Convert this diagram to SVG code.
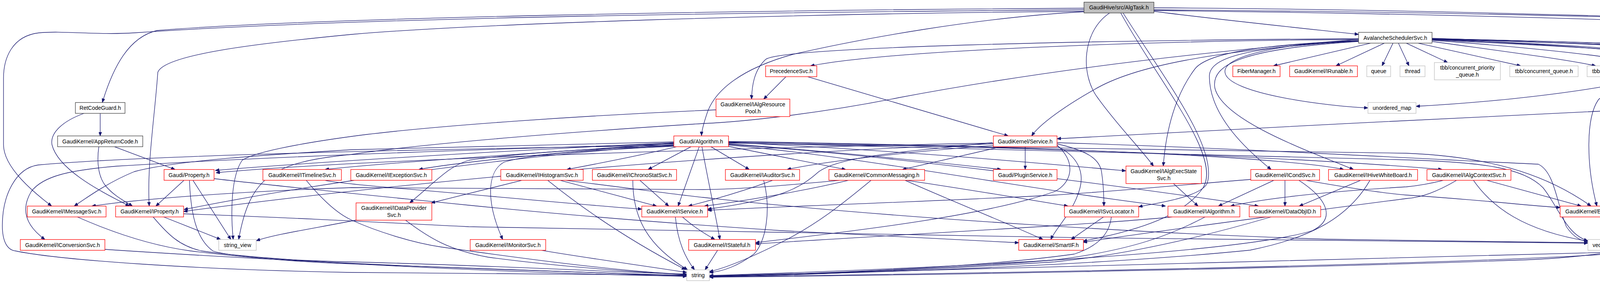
<svg xmlns="http://www.w3.org/2000/svg" width="5392" height="724" viewBox="0 0 5392 724">
<defs>
<marker id="ah" markerWidth="10" markerHeight="8" refX="10" refY="4" orient="auto" markerUnits="userSpaceOnUse">
<path d="M0,0 L10,4 L0,8 z" fill="#191970" stroke="#191970" stroke-width="1"/>
</marker>
<style>
rect{stroke-width:1.3}
.r{fill:#ffffff;stroke:#ff0000}
.k{fill:#ffffff;stroke:#404040}
.root{fill:#bfbfbf;stroke:#404040}
.g{fill:#ffffff;stroke:#bfbfbf}
text{font-family:"Liberation Sans",Arial,sans-serif;font-size:14px;text-anchor:middle;fill:#000000}
#edges path{fill:none;stroke:#191970;stroke-width:1.3;marker-end:url(#ah)}
</style>
</defs>
<rect x="0" y="0" width="5392" height="724" fill="#ffffff"/>
<g id="edges">
<path d="M2954,29 C3100,48 3350,74 3478,88"/>
<path d="M2954,20 C3700,24 4700,55 5140,83"/>
<path d="M2775,21 C1900,26 800,45 402,78 C330,95 290,170 262,262"/>
<path d="M2775,25 C1900,32 900,45 344,84 C250,90 160,78 100,84 C30,92 9,150 9,200 L9,370 C9,430 90,495 132,527"/>
<path d="M2775,29 C2000,35 1200,62 900,88 C650,112 420,140 404,185 C396,300 376,420 382,527"/>
<path d="M2775,30 C2500,45 2200,100 2030,139 C1900,175 1830,230 1810,290 C1800,320 1796,335 1796,347"/>
<path d="M2841,33 C2770,80 2765,190 2810,250 C2860,320 2920,380 2953,425"/>
<path d="M2875,33 C2980,200 3120,380 3090,470 C3070,505 2960,520 2915,529"/>
<path d="M2869,33 C2960,200 3130,400 3080,480 C3020,570 2850,600 2773,617"/>
<path d="M2954,25 C3800,32 4500,48 4760,72 C4860,85 4915,130 4942,168"/>
<path d="M2954,27 C3800,36 4600,62 4870,85 C4990,95 5040,125 5070,160 C5100,200 5080,240 4950,260 C4850,273 4770,276 4725,276"/>
<path d="M3509,110.4 L3260,168.5"/>
<path d="M3544,110.4 L3420,168.5"/>
<path d="M3566,110.4 L3538,168.5"/>
<path d="M3580,110.4 L3607,168.5"/>
<path d="M3600,110.4 L3706,160"/>
<path d="M3630,110.4 L3893,168.5"/>
<path d="M3666,106 C3800,125 4000,150 4085,168.5"/>
<path d="M3666,103 C3900,120 4150,145 4235,168.5"/>
<path d="M3666,100 C4000,115 4350,140 4462,168.5"/>
<path d="M3666,98 C4200,115 4600,140 4860,168.5"/>
<path d="M3666,101 C4100,116 4300,135 4350,160 C4385,190 4408,230 4415,262.3"/>
<path d="M3666,99 C4300,112 4600,128 4665,150 C4700,170 4692,230 4688,262.3"/>
<path d="M3478,104 C3300,110 3130,140 3136,185 C3142,240 3400,272 3502,276"/>
<path d="M3666,102 C4000,118 4250,130 4310,150 C4345,170 4330,220 4270,262.3"/>
<path d="M3478,104 C3200,115 3090,140 3060,175 C3010,240 2985,330 2978,424.8"/>
<path d="M3478,105 C3200,120 3096,145 3096,195 C3096,300 3200,390 3254,433.6"/>
<path d="M3478,106 C3180,125 3100,165 3110,225 C3130,310 3360,390 3465,433.6"/>
<path d="M3478,101 C3000,104 2300,125 2075,168.5"/>
<path d="M3478,99 C2800,103 2000,120 1960,152 C1930,180 1925,220 1924,253.5"/>
<path d="M3478,104 C3100,130 2900,170 2800,230 C2720,275 2660,320 2641,347.7"/>
<path d="M3478,101 C3100,130 2700,175 2300,250 C2100,290 1900,312 1800,316 C1500,335 1100,365 900,395 C700,415 640,450 611,612.7"/>
<path d="M3666,100 C4300,118 4600,130 4635,155 C4660,185 4620,330 4500,457 C4350,490 4250,510 4198,535"/>
<path d="M3666,100 C4350,118 4680,135 4740,190 C4780,260 4650,380 4500,470 C4350,540 4250,600 4127,620"/>
<path d="M3666,99 C4350,112 4690,135 4740,185 C4760,215 4762,240 4762,270 L4762,540 C4762,620 4700,669 4631,669 C4560,669 4400,640 4289,641 C3700,650 2300,700 1816,706"/>
<path d="M2012,196.2 L1955,253.5"/>
<path d="M2067,196.2 L2581,347.7"/>
<path d="M1833,281 C1500,295 1100,322 900,349 C760,368 650,390 620,410 C592,450 590,540 597,612.7"/>
<path d="M4234,196.2 C4000,250 3700,268 3625,272"/>
<path d="M4260,196.2 L4234,262.3"/>
<path d="M4230,196.2 C4150,225 4100,245 4092,255 C4060,300 4060,420 4088,527.3"/>
<path d="M4238,196.2 C4180,220 4130,245 4122,280 C4110,360 4230,440 4227,510 C4225,570 4160,605 4127,616"/>
<path d="M4282,196.2 C4330,260 4345,340 4342,420 C4340,520 4330,600 4200,640 C4100,668 2600,700 1816,708"/>
<path d="M4517,196.2 L4447,262.3"/>
<path d="M4528,196.2 C4510,240 4470,300 4400,370 C4300,450 4200,500 4140,527.3"/>
<path d="M4531,196.2 C4520,260 4480,370 4420,430 C4330,520 4200,590 4127,615"/>
<path d="M4551,196.2 L4654,262.3"/>
<path d="M4949,196.2 C4800,400 4600,560 4450,590 C4300,610 4180,618 4127,621"/>
<path d="M4146,282 C3800,298 3000,338 2706,355"/>
<path d="M4234,290 C4270,380 4290,460 4280,520 C4260,590 4180,612 4127,618"/>
<path d="M4242,290 C4290,380 4320,470 4310,540 C4290,620 4150,655 3900,665 C3200,690 2300,705 1816,709"/>
<path d="M256.5,290 L256.5,347.7"/>
<path d="M215,290 C160,310 128,340 133,370 C150,440 280,500 331,527.3"/>
<path d="M293,375.4 L448,433.6"/>
<path d="M253,375.4 C248,410 250,450 270,475 C290,500 320,515 339,527.3"/>
<path d="M1725,365 C1300,385 800,415 551,436"/>
<path d="M1725,367 C1400,390 1000,415 832,433.6"/>
<path d="M1725,366 C1500,385 1200,410 1072,433.6"/>
<path d="M1732,375.4 C1650,395 1550,415 1451,433.6"/>
<path d="M1769,375.4 L1659,433.6"/>
<path d="M1820,375.4 L1918,433.6"/>
<path d="M1863,374 L2165,433.6"/>
<path d="M1865,368 C2100,385 2400,415 2563,433.6"/>
<path d="M1865,364 C2300,385 2600,412 2882,437"/>
<path d="M1865,362 C2300,368 2700,380 3000,395 C3200,405 3380,420 3440,433.6"/>
<path d="M1865,363 C2600,375 3300,400 3692,433.6"/>
<path d="M1725,363 C1300,372 1000,378 900,383 C700,395 450,410 344,439 C280,465 230,500 190,527.3"/>
<path d="M1725,370 C1300,400 800,470 471,536"/>
<path d="M1725,373 C1500,380 1300,395 1200,410 C1150,425 1120,460 1049,519"/>
<path d="M1790,375.4 L1736,527.3"/>
<path d="M1865,371 C2200,400 2600,480 2984,527.3"/>
<path d="M1865,369 C2300,400 2900,480 3222,527.3"/>
<path d="M1865,366 C2600,375 3300,385 3600,392 C3800,400 3950,440 4073,527.3"/>
<path d="M1725,368 C1300,380 700,400 300,425 C180,435 110,450 80,490 C50,540 70,580 115,612.7"/>
<path d="M1725,374 C1500,385 1350,395 1290,415 C1245,440 1245,520 1287,612.7"/>
<path d="M1797,375.4 C1810,450 1830,540 1843,612.7"/>
<path d="M1865,365 C2600,385 3300,400 3600,409 C3800,415 3900,430 3950,480 C3990,530 4010,600 4065,616"/>
<path d="M1725,372 C1200,380 400,395 98,422 C40,430 6,500 6,577 C6,620 20,640 40,642 C150,665 500,690 900,697 C1300,702 1600,704 1758,704"/>
<path d="M2624.5,375.4 L2624.5,433.6"/>
<path d="M2563,375.4 L2310,433.6"/>
<path d="M2543,372 C2300,390 2100,415 2015,433.6"/>
<path d="M2543,366 C1800,380 900,410 553,442"/>
<path d="M2543,368 C1800,395 1000,470 470,541"/>
<path d="M2540,365 C2300,390 2150,400 2095,440 C2050,480 2000,510 1811.5,535"/>
<path d="M2706,368 C2780,385 2815,405 2820,440 C2826,480 2826,510 2826,527.3"/>
<path d="M2706,371 C2760,420 2740,470 2700,490 C2500,560 2100,600 1934,621"/>
<path d="M2706,374 C2760,400 2775,440 2765,480 C2750,540 2705,580 2690,612.7"/>
<path d="M2706,365 C3200,380 3600,405 3938,420 C3980,440 3985,520 4010,580 C4030,610 4050,616 4065,618"/>
<path d="M471,461.3 L399,527.3"/>
<path d="M494,461.3 L591,612.7"/>
<path d="M485,461.3 C488,540 500,610 545,642 C600,660 800,668 900,670 C1300,680 1600,698 1758,701"/>
<path d="M548,457 C700,475 900,495 1200,525 C1500,555 1800,577 2000,590 C2300,605 2500,616 2608,621"/>
<path d="M832,461.3 C850,466 900,471 1000,480 C1300,505 1500,525 1643,535"/>
<path d="M784,461.3 C820,505 860,545 900,563 C960,590 1050,620 1130,632 C1400,670 1600,695 1758,702"/>
<path d="M1434,461.3 L1681,527.3"/>
<path d="M1336,461.3 L1104,519"/>
<path d="M1402,461.3 C1500,540 1620,620 1755,690"/>
<path d="M1448,461.3 C1600,480 1750,500 1800,505 C2300,560 3000,600 3400,612 C3700,618 3950,620 4065,621"/>
<path d="M1638,461.3 L1712,527.3"/>
<path d="M1620,461.3 C1620,560 1660,630 1760,690"/>
<path d="M1978,461.3 C1900,490 1830,510 1762,527.3"/>
<path d="M1955,461.3 C1975,540 1960,620 1930,650 C1890,680 1850,695 1816,697"/>
<path d="M2150,461.3 C2000,475 1900,484 1800,485 C1400,482 1000,478 900,480 C600,490 350,510 235,527.3"/>
<path d="M2320,461.3 C2450,480 2600,505 2734,527.3"/>
<path d="M2317,461.3 C2450,520 2600,580 2670,612.7"/>
<path d="M2230,461.3 C2170,510 2100,570 2000,620 C1920,660 1860,685 1816,695"/>
<path d="M2172,461.3 C2050,490 1900,515 1803,527.3"/>
<path d="M3004,469.6 L3067,527.3"/>
<path d="M3261,461.3 L3119,527.3"/>
<path d="M3289.5,461.3 L3289.5,527.3"/>
<path d="M3202,459 C3000,475 2850,490 2700,499 C2400,515 2000,528 1811.5,538"/>
<path d="M3343,461.3 C3450,480 3550,495 3600,499 C3800,512 3900,525 3994,531"/>
<path d="M3325,461.3 C3400,510 3420,560 3360,590 C3200,640 2600,680 1816,705"/>
<path d="M3483,461.3 L3326,527.3"/>
<path d="M3507,461.3 C3450,560 3350,610 3200,640 C2800,680 2200,700 1816,706"/>
<path d="M3695,461.3 C3660,470 3630,475 3600,478 C3400,490 3250,505 3150,527.3"/>
<path d="M3729,461.3 C3680,490 3640,505 3600,508 C3200,560 2900,600 2773,620"/>
<path d="M3806,461.3 L4048,527.3"/>
<path d="M3772,461.3 C3820,530 3900,590 4065,617"/>
<path d="M198,555 C300,600 400,630 488,642 C650,662 800,672 900,675 C1300,690 1600,702 1758,706"/>
<path d="M419,555 L565,612.7"/>
<path d="M392,555 C430,600 460,630 517,642 C700,670 1300,698 1758,707"/>
<path d="M470,547 C700,555 900,565 1200,580 C2000,600 3200,615 4065,622"/>
<path d="M912,563 C800,585 700,600 656,616"/>
<path d="M1038,563.3 C1100,610 1150,640 1250,658 C1450,685 1650,697 1758,703"/>
<path d="M1729,555 C1735,620 1755,660 1778,690.3"/>
<path d="M1747,555 C1770,575 1790,590 1830,612.7"/>
<path d="M2825,555 L2742,612.7"/>
<path d="M2845,555 C2840,600 2810,630 2750,650 C2500,685 2100,700 1816,707"/>
<path d="M3001,555 C2800,575 2300,600 1934,624"/>
<path d="M3085,555 C3000,600 2900,640 2700,665 C2400,690 2000,703 1816,708"/>
<path d="M3254,555 C3100,600 2900,650 2700,670 C2300,695 2000,705 1816,709"/>
<path d="M269,638 C600,660 1000,680 1300,690 C1500,697 1650,702 1758,705"/>
<path d="M1386,640.4 C1500,660 1650,680 1758,697"/>
<path d="M1837,640.4 L1805,690.3"/>
</g>
<g id="n_algtask"><rect class="root" x="2775" y="5.5" width="179" height="27.7"/><text x="2864.5" y="24.4">GaudiHive/src/AlgTask.h</text></g>
<g id="n_avalanche"><rect class="k" x="3478" y="82.7" width="188" height="27.7"/><text x="3572" y="101.5">AvalancheSchedulerSvc.h</text></g>
<g id="n_threadlocal"><rect class="r" x="5140" y="82.7" width="246" height="27.7"/><text x="5263" y="101.5">GaudiKernel/ThreadLocalContext.h</text></g>
<g id="n_precedence"><rect class="r" x="1960" y="168.5" width="131" height="27.7"/><text x="2025.5" y="187.3">PrecedenceSvc.h</text></g>
<g id="n_fiber"><rect class="r" x="3156" y="168.5" width="121" height="27.7"/><text x="3216.5" y="187.3">FiberManager.h</text></g>
<g id="n_irunable"><rect class="r" x="3301.5" y="168.5" width="173.5" height="27.7"/><text x="3388.2" y="187.3">GaudiKernel/IRunable.h</text></g>
<g id="n_queue"><rect class="g" x="3499" y="168.5" width="61" height="27.7"/><text x="3529.5" y="187.3">queue</text></g>
<g id="n_thread"><rect class="g" x="3584" y="168.5" width="64" height="27.7"/><text x="3616" y="187.3">thread</text></g>
<g id="n_tbbcpq"><rect class="g" x="3672" y="160" width="169" height="44.3"/><text x="3756.5" y="178">tbb/concurrent_priority</text><text x="3756.5" y="195.5">_queue.h</text></g>
<g id="n_tbbcq"><rect class="g" x="3865" y="168.5" width="175" height="27.7"/><text x="3952.5" y="187.3">tbb/concurrent_queue.h</text></g>
<g id="n_tbbta"><rect class="g" x="4063" y="168.5" width="130.5" height="27.7"/><text x="4128.2" y="187.3">tbb/task_arena.h</text></g>
<g id="n_eventslot"><rect class="r" x="4218" y="168.5" width="95.5" height="27.7"/><text x="4265.7" y="187.3">EventSlot.h</text></g>
<g id="n_ischeduler"><rect class="r" x="4439" y="168.5" width="184" height="27.7"/><text x="4531" y="187.3">GaudiKernel/IScheduler.h</text></g>
<g id="n_ithreadpool"><rect class="r" x="4849" y="168.5" width="217" height="27.7"/><text x="4957.5" y="187.3">GaudiKernel/IThreadPoolSvc.h</text></g>
<g id="n_ialgrespool"><rect class="r" x="1833" y="253.5" width="189" height="44.8"/><text x="1927.5" y="272">GaudiKernel/IAlgResource</text><text x="1927.5" y="289.5">Pool.h</text></g>
<g id="n_retcode"><rect class="k" x="193" y="262.3" width="127" height="27.7"/><text x="256.5" y="281.2">RetCodeGuard.h</text></g>
<g id="n_umap"><rect class="g" x="3502" y="262.3" width="123" height="27.7"/><text x="3563.5" y="281.2">unordered_map</text></g>
<g id="n_algsexec"><rect class="r" x="4146" y="262.3" width="165" height="27.7"/><text x="4228.5" y="281.2">AlgsExecutionStates.h</text></g>
<g id="n_memory"><rect class="g" x="4386" y="262.3" width="77" height="27.7"/><text x="4424.5" y="281.2">memory</text></g>
<g id="n_functional"><rect class="g" x="4639" y="262.3" width="86" height="27.7"/><text x="4682" y="281.2">functional</text></g>
<g id="n_appret"><rect class="k" x="147.5" y="347.7" width="218" height="27.7"/><text x="256.5" y="366.5">GaudiKernel/AppReturnCode.h</text></g>
<g id="n_algorithm"><rect class="r" x="1725" y="347.7" width="140" height="27.7"/><text x="1795" y="366.5">Gaudi/Algorithm.h</text></g>
<g id="n_service"><rect class="r" x="2543" y="347.7" width="163" height="27.7"/><text x="2624.5" y="366.5">GaudiKernel/Service.h</text></g>
<g id="n_property"><rect class="r" x="420" y="433.6" width="128" height="27.7"/><text x="484" y="452.5">Gaudi/Property.h</text></g>
<g id="n_itimeline"><rect class="r" x="673" y="433.6" width="201" height="27.7"/><text x="773.5" y="452.5">GaudiKernel/ITimelineSvc.h</text></g>
<g id="n_iexception"><rect class="r" x="898" y="433.6" width="207.5" height="27.7"/><text x="1001.7" y="452.5">GaudiKernel/IExceptionSvc.h</text></g>
<g id="n_ihistogram"><rect class="r" x="1282" y="433.6" width="211" height="27.7"/><text x="1387.5" y="452.5">GaudiKernel/IHistogramSvc.h</text></g>
<g id="n_ichrono"><rect class="r" x="1516.5" y="433.6" width="215.5" height="27.7"/><text x="1624.2" y="452.5">GaudiKernel/IChronoStatSvc.h</text></g>
<g id="n_iauditor"><rect class="r" x="1857" y="433.6" width="190" height="27.7"/><text x="1952" y="452.5">GaudiKernel/IAuditorSvc.h</text></g>
<g id="n_commonmsg"><rect class="r" x="2122" y="433.6" width="245" height="27.7"/><text x="2244.5" y="452.5">GaudiKernel/CommonMessaging.h</text></g>
<g id="n_plugin"><rect class="r" x="2543" y="433.6" width="163" height="27.7"/><text x="2624.5" y="452.5">Gaudi/PluginService.h</text></g>
<g id="n_ialgexec"><rect class="r" x="2882.5" y="424.8" width="193" height="44.8"/><text x="2979" y="443.4">GaudiKernel/IAlgExecState</text><text x="2979" y="460.5">Svc.h</text></g>
<g id="n_icond"><rect class="r" x="3202" y="433.6" width="176" height="27.7"/><text x="3290" y="452.5">GaudiKernel/ICondSvc.h</text></g>
<g id="n_ihive"><rect class="r" x="3401" y="433.6" width="228" height="27.7"/><text x="3515" y="452.5">GaudiKernel/IHiveWhiteBoard.h</text></g>
<g id="n_ialgctx"><rect class="r" x="3653" y="433.6" width="215" height="27.7"/><text x="3760.5" y="452.5">GaudiKernel/IAlgContextSvc.h</text></g>
<g id="n_imessage"><rect class="r" x="70" y="527.3" width="201.5" height="27.7"/><text x="170.7" y="546.2">GaudiKernel/IMessageSvc.h</text></g>
<g id="n_iproperty"><rect class="r" x="296" y="527.3" width="174" height="27.7"/><text x="383" y="546.2">GaudiKernel/IProperty.h</text></g>
<g id="n_idataprov"><rect class="r" x="911.5" y="519" width="194" height="44.3"/><text x="1008.5" y="537.4">GaudiKernel/IDataProvider</text><text x="1008.5" y="554.5">Svc.h</text></g>
<g id="n_iservice"><rect class="r" x="1643" y="527.3" width="168.5" height="27.7"/><text x="1727.2" y="546.2">GaudiKernel/IService.h</text></g>
<g id="n_isvcloc"><rect class="r" x="2725" y="527.3" width="190" height="27.7"/><text x="2820" y="546.2">GaudiKernel/ISvcLocator.h</text></g>
<g id="n_ialgorithm"><rect class="r" x="2990" y="527.3" width="184" height="27.7"/><text x="3082" y="546.2">GaudiKernel/IAlgorithm.h</text></g>
<g id="n_dataobjid"><rect class="r" x="3198" y="527.3" width="183" height="27.7"/><text x="3289.5" y="546.2">GaudiKernel/DataObjID.h</text></g>
<g id="n_eventctx"><rect class="r" x="3994" y="527.3" width="204" height="27.7"/><text x="4096" y="546.2">GaudiKernel/EventContext.h</text></g>
<g id="n_iconversion"><rect class="r" x="52" y="612.7" width="216.5" height="27.7"/><text x="160.2" y="631.5">GaudiKernel/IConversionSvc.h</text></g>
<g id="n_stringview"><rect class="g" x="560" y="612.7" width="96" height="27.7"/><text x="608" y="631.5">string_view</text></g>
<g id="n_imonitor"><rect class="r" x="1203.6" y="612.7" width="193.4" height="27.7"/><text x="1300.3" y="631.5">GaudiKernel/IMonitorSvc.h</text></g>
<g id="n_istateful"><rect class="r" x="1763" y="612.7" width="171" height="27.7"/><text x="1848.5" y="631.5">GaudiKernel/IStateful.h</text></g>
<g id="n_smartif"><rect class="r" x="2608" y="612.7" width="165.5" height="27.7"/><text x="2690.7" y="631.5">GaudiKernel/SmartIF.h</text></g>
<g id="n_vector"><rect class="g" x="4065" y="612.7" width="62" height="27.7"/><text x="4096" y="631.5">vector</text></g>
<g id="n_string"><rect class="g" x="1758" y="690.3" width="58" height="27.7"/><text x="1787" y="709.2">string</text></g>
</svg>
